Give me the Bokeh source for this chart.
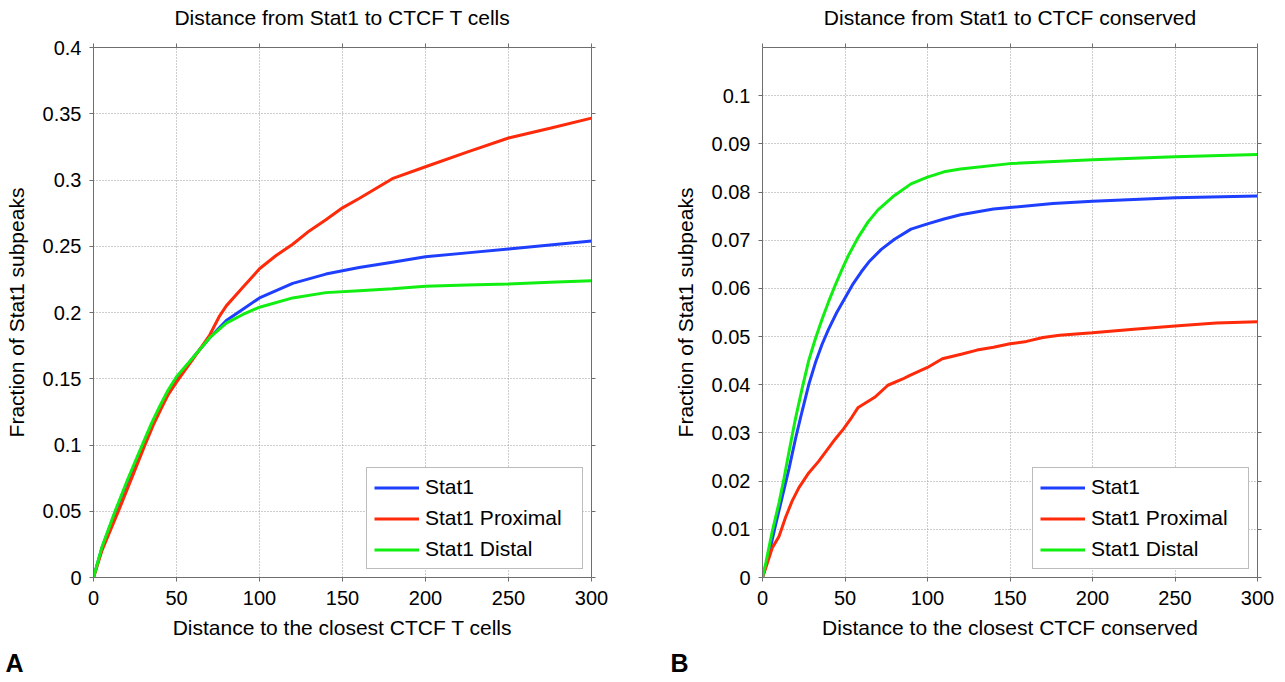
from bokeh.plotting import figure
from bokeh.models import LinearAxis, FixedTicker, Range1d, Title, CustomLabelingPolicy
from bokeh.layouts import row
from bokeh.embed import file_html
from bokeh.resources import INLINE

# ---------------- data ----------------
SERIES_NAMES = ["Stat1", "Stat1 Proximal", "Stat1 Distal"]
SERIES_COLORS = ["#1f3fff", "#ff2a0a", "#11ee11"]

# Panel A: Distance from Stat1 to CTCF T cells
a_x = [0, 5, 13, 21, 29, 35, 40, 45, 50, 60, 70, 80, 90, 100, 120, 140, 160, 180, 200, 225,
       250, 275, 300]
a_stat1 = [0, 0.022, 0.049, 0.074, 0.097, 0.1145, 0.1275, 0.1395, 0.150, 0.166, 0.181, 0.194,
           0.2025, 0.211, 0.222, 0.229, 0.234, 0.238, 0.242, 0.245, 0.248, 0.251, 0.254]
a_distal = [0, 0.0226, 0.050, 0.0753, 0.099, 0.1165, 0.1295, 0.1415, 0.1515, 0.166, 0.181, 0.192,
            0.1985, 0.204, 0.211, 0.215, 0.2165, 0.218, 0.2198, 0.2207, 0.2216, 0.2228, 0.224]
a_x_prox = [0, 5, 15, 23, 31, 36, 41, 45, 50, 60, 70, 76, 80, 90, 100, 110, 120, 130, 140, 150,
            160, 180, 200, 225, 250, 275, 300]
a_proximal = [0, 0.020, 0.050, 0.075, 0.100, 0.115, 0.128, 0.138, 0.1475, 0.165, 0.183, 0.1975,
              0.205, 0.219, 0.233, 0.243, 0.2515, 0.2616, 0.270, 0.279, 0.286, 0.301, 0.310,
              0.321, 0.3317, 0.339, 0.3467]
a_yticks = [0, 0.05, 0.1, 0.15, 0.2, 0.25, 0.3, 0.35, 0.4]
a_ylabels = ["0", "0.05", "0.1", "0.15", "0.2", "0.25", "0.3", "0.35", "0.4"]

# Panel B: Distance from Stat1 to CTCF conserved
b_x_stat1 = [0, 4, 8, 12, 16, 20, 24, 28, 32, 36, 40, 45, 50, 55, 60, 65, 72, 80, 90, 100, 110,
             120, 140, 176, 200, 250, 300]
b_stat1 = [0, 0.005, 0.011, 0.0168, 0.0225, 0.0288, 0.0345, 0.040, 0.0445, 0.0483, 0.0515,
           0.055, 0.058, 0.061, 0.0635, 0.0657, 0.0681, 0.0702, 0.0723, 0.0734, 0.0744, 0.0753,
           0.0765, 0.0776, 0.0781, 0.0788, 0.0792]
b_x_prox = [0, 2, 6, 10, 14, 18, 22, 28, 34, 44, 49, 54, 58, 68, 76, 85, 89, 100, 109, 121, 130,
            140, 150, 160, 170, 180, 200, 225, 250, 275, 300]
b_proximal = [0, 0.002, 0.0062, 0.0085, 0.0125, 0.0159, 0.0186, 0.0217, 0.0241, 0.0287, 0.0308,
              0.0332, 0.0353, 0.0374, 0.0399, 0.0412, 0.0419, 0.0436, 0.0454, 0.0464, 0.0472,
              0.0478, 0.0485, 0.0490, 0.0498, 0.0503, 0.0508, 0.0515, 0.0522, 0.0528, 0.0531]
b_x_distal = [0, 2, 6, 10, 13, 16, 20, 24, 28, 32, 36, 40, 44, 48, 52, 58, 64, 70, 80, 90, 100,
              110, 120, 150, 200, 250, 300]
b_distal = [0, 0.003, 0.0097, 0.0155, 0.0205, 0.026, 0.033, 0.0392, 0.045, 0.0495, 0.0535, 0.0572,
            0.0606, 0.0638, 0.0668, 0.0706, 0.0738, 0.0763, 0.0793, 0.0817, 0.0831, 0.0842,
            0.0848, 0.0859, 0.0867, 0.0873, 0.0878]
b_yticks = [0, 0.01, 0.02, 0.03, 0.04, 0.05, 0.06, 0.07, 0.08, 0.09, 0.1]
b_ylabels = ["0", "0.01", "0.02", "0.03", "0.04", "0.05", "0.06", "0.07", "0.08", "0.09", "0.1"]

x_ticks = [0, 50, 100, 150, 200, 250, 300]
x_labels = ["0", "50", "100", "150", "200", "250", "300"]

FONT = "Liberation Sans"
AXIS_COLOR = "#6e6e6e"

NO_LABELS = CustomLabelingPolicy(code="""
for (const i of Array.from(indices)) { indices.unset(i) }
return indices
""")


def make_panel(width, border_left, border_right, title, xlabel, ylabel, ymax,
               yticks, ylabels, curves, letter):
    p = figure(width=width, height=682, output_backend="svg", toolbar_location=None,
               x_range=Range1d(0, 300), y_range=Range1d(0, ymax),
               min_border_left=border_left, min_border_right=border_right,
               min_border_top=20, min_border_bottom=20, title=title)
    p.background_fill_color = "white"
    p.border_fill_color = "white"
    p.outline_line_color = None

    p.title.text_font = FONT
    p.title.text_font_size = "21px"
    p.title.text_font_style = "normal"
    p.title.align = "center"
    p.title.text_color = "black"
    p.title.standoff = 7

    for ax in (p.xaxis[0], p.yaxis[0]):
        ax.axis_line_color = AXIS_COLOR
        ax.major_tick_line_color = AXIS_COLOR
        ax.major_tick_in = 0
        ax.major_tick_out = 4
        ax.minor_tick_line_color = None
        ax.major_label_text_font = FONT
        ax.major_label_text_font_size = "20px"
        ax.major_label_text_color = "black"
        ax.axis_label_text_font = FONT
        ax.axis_label_text_font_size = "21px"
        ax.axis_label_text_font_style = "normal"
        ax.axis_label_text_color = "black"

    p.xaxis[0].ticker = FixedTicker(ticks=x_ticks)
    p.xaxis[0].major_label_overrides = dict(zip(x_ticks, x_labels))
    p.xaxis[0].axis_label = xlabel
    p.xaxis[0].major_label_standoff = 9
    p.xaxis[0].axis_label_standoff = 8

    p.yaxis[0].ticker = FixedTicker(ticks=yticks)
    p.yaxis[0].major_label_overrides = dict(zip(yticks, ylabels))
    p.yaxis[0].axis_label = ylabel
    p.yaxis[0].major_label_standoff = 8
    p.yaxis[0].axis_label_standoff = 12

    # box axes (top / right) with ticks only
    top = LinearAxis(ticker=FixedTicker(ticks=x_ticks))
    right = LinearAxis(ticker=FixedTicker(ticks=yticks))
    for ax in (top, right):
        ax.axis_line_color = AXIS_COLOR
        ax.major_tick_line_color = AXIS_COLOR
        ax.major_tick_in = 0
        ax.major_tick_out = 4
        ax.minor_tick_line_color = None
        ax.major_label_policy = NO_LABELS
        ax.major_label_standoff = 0
    p.add_layout(top, "above")
    p.add_layout(right, "right")

    p.xgrid.ticker = FixedTicker(ticks=x_ticks)
    p.ygrid.ticker = FixedTicker(ticks=yticks)
    for g in (p.xgrid[0], p.ygrid[0]):
        g.grid_line_color = "#9a9a9a"
        g.grid_line_dash = "1 2"
        g.grid_line_width = 1

    for (xs, ys), name, color in zip(curves, SERIES_NAMES, SERIES_COLORS):
        p.line(xs, ys, line_color=color, line_width=3, legend_label=name)

    lg = p.legend[0]
    lg.location = "bottom_right"
    lg.margin = 8
    lg.padding = 7
    lg.spacing = 7
    lg.label_height = 21
    lg.glyph_height = 21
    lg.glyph_width = 45
    lg.label_standoff = 6
    lg.label_width = 150
    lg.label_text_font = FONT
    lg.label_text_font_size = "21px"
    lg.label_text_color = "black"
    lg.border_line_color = "#7a7a7a"
    lg.border_line_width = 1
    lg.background_fill_color = "white"
    lg.background_fill_alpha = 1

    lt = Title(text=letter[0], align="left", offset=letter[1] - border_left,
               text_font=FONT, text_font_size="25px", text_font_style="bold",
               text_color="black", standoff=11)
    p.add_layout(lt, "below")
    return p


pa = make_panel(643, 93, 52, "Distance from Stat1 to CTCF T cells",
                "Distance to the closest CTCF T cells", "Fraction of Stat1 subpeaks", 0.4,
                a_yticks, a_ylabels,
                [(a_x, a_stat1), (a_x_prox, a_proximal), (a_x, a_distal)], ("A", 5))
pb = make_panel(642, 119, 26, "Distance from Stat1 to CTCF conserved",
                "Distance to the closest CTCF conserved", "Fraction of Stat1 subpeaks", 0.11,
                b_yticks, b_ylabels,
                [(b_x_stat1, b_stat1), (b_x_prox, b_proximal), (b_x_distal, b_distal)], ("B", 27))

layout = row(pa, pb, spacing=0)
open("out.html", "w").write(file_html(layout, INLINE))
